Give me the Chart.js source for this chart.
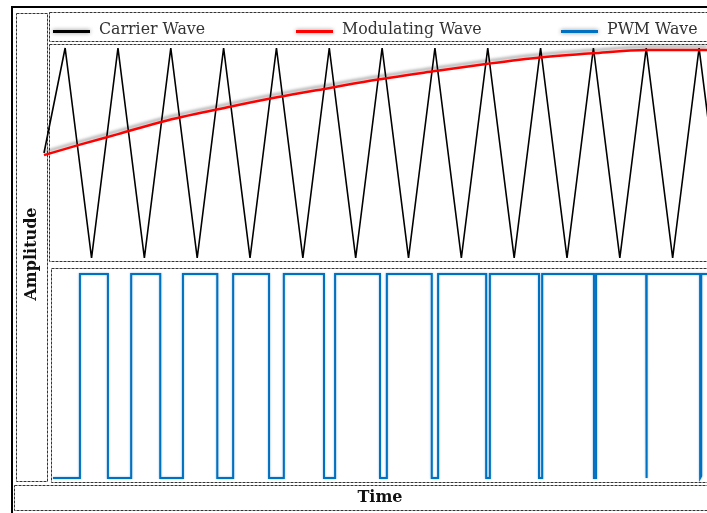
<!DOCTYPE html>
<html>
<head>
<meta charset="utf-8">
<title>SPWM</title>
<script src="https://cdn.jsdelivr.net/npm/chart.js@4.4.1/dist/chart.umd.min.js"></script>
<style>
  html, body { margin: 0; padding: 0; background: #fff; }
  #wave { display: block; }
</style>
</head>
<body>
<canvas id="wave" width="707" height="513"></canvas>
<script>
// time is counted in carrier periods
const carrierTime = [0, 0.4, 0.9, 1.4, 1.9, 2.4, 2.9, 3.4, 3.9, 4.4, 4.9, 5.4, 5.9,
  6.4, 6.9, 7.4, 7.9, 8.4, 8.9, 9.4, 9.9, 10.4, 10.9, 11.4, 11.9, 12.4, 12.9];
const carrierValue = [0, 1, -1, 1, -1, 1, -1, 1, -1, 1, -1, 1, -1,
  1, -1, 1, -1, 1, -1, 1, -1, 1, -1, 1, -1, 1, -1];

const modTime = [0, 0.68, 1.40, 2.33, 3.52, 4.41, 5.41, 6.32, 7.40, 8.40, 9.39, 10.39, 11.41, 12.55];
const modValue = [-0.02, 0.08, 0.18, 0.31, 0.44, 0.53, 0.62, 0.70, 0.78, 0.85, 0.91, 0.95, 0.98, 0.98];

// switching instants of the comparator output
const pwmTime = [0.17, 0.68, 0.68, 1.21, 1.21, 1.65, 1.65, 2.20, 2.20, 2.63, 2.63, 3.28, 3.28,
  3.58, 3.58, 4.26, 4.26, 4.54, 4.54, 5.30, 5.30, 5.51, 5.51, 6.36, 6.36, 6.49, 6.49,
  7.34, 7.34, 7.46, 7.46, 8.37, 8.37, 8.44, 8.44, 9.37, 9.37, 9.43, 9.43, 10.41, 10.41,
  10.45, 10.45, 11.40, 11.40, 11.41, 11.41, 12.42, 12.42, 12.44, 12.44, 12.55];
const pwmLevel = [0, 0, 1, 1, 0, 0, 1, 1, 0, 0, 1, 1, 0,
  0, 1, 1, 0, 0, 1, 1, 0, 0, 1, 1, 0, 0, 1,
  1, 0, 0, 1, 1, 0, 0, 1, 1, 0, 0, 1, 1, 0,
  0, 1, 1, 0, 0.01, 1, 1, 0, 0.01, 1, 1];

const seriesNames = ['Carrier Wave', 'Modulating Wave', 'PWM Wave'];
const legendSlots = [53, 296, 561];

function pairs(xs, ys) {
  return xs.map((x, i) => ({ x: x, y: ys[i] }));
}

// dashed frames, titles and the hand placed legend
const figureFrame = {
  id: 'figureFrame',
  beforeDatasetsDraw(chart) {
    const ctx = chart.ctx;
    ctx.save();
    ctx.strokeStyle = '#000';
    ctx.lineWidth = 2;
    ctx.strokeRect(12, 7, 720, 520);

    ctx.strokeStyle = '#333';
    ctx.lineWidth = 1;
    ctx.setLineDash([3, 1]);
    ctx.strokeRect(16.5, 13.5, 31, 468);
    ctx.strokeRect(49.5, 12.5, 680, 29);
    ctx.strokeRect(49.5, 44.5, 680, 217);
    ctx.strokeRect(51.5, 268.5, 680, 214);
    ctx.strokeRect(14.5, 485.5, 720, 25);
    ctx.setLineDash([]);

    ctx.fillStyle = '#111';
    ctx.font = 'bold 16px "DejaVu Serif"';
    ctx.textAlign = 'center';
    ctx.textBaseline = 'middle';
    ctx.fillText('Time', 380, 498);
    ctx.translate(32, 254);
    ctx.rotate(-Math.PI / 2);
    ctx.fillText('Amplitude', 0, 0);
    ctx.restore();
  },
  afterDraw(chart) {
    const ctx = chart.ctx;
    ctx.save();
    chart.data.datasets.forEach((ds, i) => {
      const x = legendSlots[i];
      ctx.save();
      ctx.shadowColor = 'rgba(0,0,0,0.45)';
      ctx.shadowBlur = 4;
      ctx.strokeStyle = ds.borderColor;
      ctx.lineWidth = 3;
      ctx.beginPath();
      ctx.moveTo(x, 31.5);
      ctx.lineTo(x + 37, 31.5);
      ctx.stroke();
      ctx.restore();
      ctx.fillStyle = '#333';
      ctx.font = '15.8px "DejaVu Serif"';
      ctx.textBaseline = 'alphabetic';
      ctx.fillText(ds.label, x + 46, 34);
    });
    ctx.restore();
  }
};

// soft drop shadow under selected traces
const lineShadow = {
  id: 'lineShadow',
  beforeDatasetDraw(chart, args) {
    const s = chart.data.datasets[args.index].shadow;
    if (!s) return;
    const ctx = chart.ctx;
    ctx.save();
    ctx.shadowColor = s.color;
    ctx.shadowBlur = s.blur;
    ctx.shadowOffsetX = 0;
    ctx.shadowOffsetY = s.offsetY;
  },
  afterDatasetDraw(chart, args) {
    if (chart.data.datasets[args.index].shadow) chart.ctx.restore();
  }
};

new Chart(document.getElementById('wave'), {
  type: 'line',
  data: {
    datasets: [{
      label: seriesNames[0],
      data: pairs(carrierTime, carrierValue),
      yAxisID: 'yCarrier',
      borderColor: '#000000',
      borderWidth: 1.6,
      borderJoinStyle: 'bevel',
      pointRadius: 0,
      tension: 0,
      clip: false,
      order: 1
    }, {
      label: seriesNames[1],
      data: pairs(modTime, modValue),
      yAxisID: 'yCarrier',
      borderColor: '#ff0000',
      borderWidth: 2.5,
      pointRadius: 0,
      cubicInterpolationMode: 'monotone',
      clip: false,
      order: 0,
      shadow: { color: 'rgba(0,0,0,0.35)', blur: 3, offsetY: -3 }
    }, {
      label: seriesNames[2],
      data: pairs(pwmTime, pwmLevel),
      yAxisID: 'yPwm',
      borderColor: '#0070c0',
      borderWidth: 2,
      pointRadius: 0,
      tension: 0,
      clip: false,
      order: 2,
      shadow: { color: 'rgba(0,112,192,0.5)', blur: 2, offsetY: 0 }
    }]
  },
  options: {
    responsive: false,
    animation: false,
    devicePixelRatio: 1,
    layout: { padding: { left: 44, right: 0, top: 48, bottom: 35 } },
    plugins: {
      legend: { display: false },
      tooltip: { enabled: false }
    },
    scales: {
      x: { type: 'linear', min: 0, max: 12.55, display: false },
      yCarrier: { type: 'linear', min: -3.0952, max: 1, display: false },
      yPwm: { type: 'linear', min: 0, max: 2.1078, display: false }
    }
  },
  plugins: [figureFrame, lineShadow]
});
</script>
</body>
</html>
